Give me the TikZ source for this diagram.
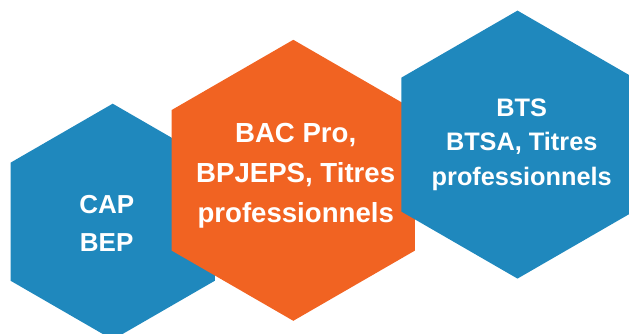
\documentclass[tikz,border=0pt]{standalone}
\usepackage{fontspec}
\setmainfont{Liberation Sans}
\definecolor{hexblue}{RGB}{31,136,189}
\definecolor{hexorange}{RGB}{241,99,34}
\newcommand\hexpath[5]{% name, colour, cx, cy, s
  \fill[#2] ({#3},{#4-#5}) coordinate (#1-t)
    -- ({#3-0.8660254*#5},{#4-0.5*#5}) -- ({#3-0.8660254*#5},{#4+0.5*#5})
    -- ({#3},{#4+#5}) -- ({#3+0.8660254*#5},{#4+0.5*#5})
    -- ({#3+0.8660254*#5},{#4-0.5*#5}) -- cycle;}
\tikzset{
  hextext/.style={text=white, align=center, inner sep=0pt, anchor=north}
}
\begin{document}
\begin{tikzpicture}[x=1pt,y=-1pt]
\useasboundingbox (0,0) rectangle (629,334);
\clip (0,0) rectangle (629,334);
\hexpath{left}{hexblue}{112.7}{221.7}{118}
\hexpath{mid}{hexorange}{293.3}{180.3}{140.5}
\hexpath{right}{hexblue}{517.5}{144.6}{134}
\node[hextext, font=\fontsize{26}{38.4}\selectfont\bfseries] (tleft) at (106.7,195) {CAP\\BEP};
\node[hextext, font=\fontsize{27.6}{39.7}\selectfont\bfseries] (tmid) at (295.7,123.3) {BAC Pro,\\BPJEPS, Titres\\professionnels};
\node[hextext, font=\fontsize{25.3}{34.7}\selectfont\bfseries] (tright) at (521.7,98.3) {BTS\\BTSA, Titres\\professionnels};
\end{tikzpicture}
\end{document}
